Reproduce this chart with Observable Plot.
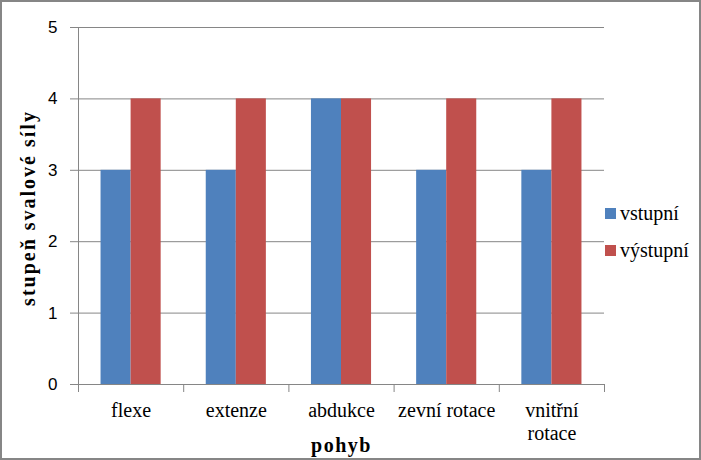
<!DOCTYPE html>
<html>
<head>
<meta charset="utf-8">
<script src="https://cdn.jsdelivr.net/npm/d3@7"></script>
<script src="https://cdn.jsdelivr.net/npm/@observablehq/plot@0.6"></script>
<style>
  body { margin: 0; background: #fff; }
  #wrap { position: relative; width: 701px; height: 460px; overflow: hidden; background: #fff; }
  #border { position: absolute; left: 0; top: 0; width: 701px; height: 460px; box-sizing: border-box; border: 2px solid #868686; pointer-events: none; }
  #legend { position: absolute; left: 0; top: 0; font-family: "Liberation Serif", "DejaVu Serif", "Noto Serif", "FreeSerif", "Nimbus Roman", "Nimbus Roman No9 L", "Tinos", "Times", serif; font-size: 20px; color: #000; }
  .lg-row { position: absolute; left: 605px; height: 20px; display: flex; align-items: center; white-space: nowrap; }
  .lg-sw { width: 11px; height: 11px; margin-right: 4px; }
  .lg-tx { line-height: 20px; }
  .ylab text { letter-spacing: 2px; }
  .xlab text { letter-spacing: 1.5px; }
</style>
</head>
<body>
<div id="wrap"><div id="legend"></div><div id="border"></div></div>
<script>
// ---- data ----
const categories = ["flexe", "extenze", "abdukce", "zevní rotace", "vnitřní rotace"];
const tickLabels = ["flexe", "extenze", "abdukce", "zevní rotace", "vnitřní\nrotace"];
const series = ["vstupní", "výstupní"];
const vstupni = [3, 3, 4, 3, 3];
const vystupni = [4, 4, 4, 4, 4];
const yTicks = [0, 1, 2, 3, 4, 5];
const xTitle = "pohyb";
const yTitle = "stupeň svalové síly";

// ---- styles ----
const serifFont = "'Liberation Serif', 'DejaVu Serif', 'Noto Serif', FreeSerif, 'Nimbus Roman', 'Nimbus Roman No9 L', Tinos, Times, serif";
const sansFont = "'Liberation Sans', Arial, sans-serif";
const colors = ["#4F81BD", "#C0504D"];
const axisGray = "#868686";
const groupInset = 0.2143;               // empty fraction of each category band on each side
const barFrac = (1 - 2 * groupInset) / 2; // width of one bar as fraction of band

const rows = categories.flatMap((c, i) => [
  {category: c, index: i, series: series[0], value: vstupni[i], slot: 0},
  {category: c, index: i, series: series[1], value: vystupni[i], slot: 1}
]);
const labelRows = categories.map((c, i) => ({index: i, label: tickLabels[i]}));

const plot = Plot.plot({
  width: 701,
  height: 460,
  marginLeft: 78,
  marginRight: 97,
  marginTop: 27,
  marginBottom: 76,
  style: {background: "transparent", color: "#000", overflow: "visible"},
  x: {type: "linear", domain: [0, categories.length], axis: null},
  y: {domain: [0, 5], axis: null},
  color: {domain: series, range: colors},
  marks: [
    Plot.gridY(yTicks, {stroke: axisGray, strokeOpacity: 1, strokeWidth: 1}),
    Plot.axisY(yTicks, {
      tickSize: 8, tickPadding: 13, stroke: axisGray, strokeOpacity: 1,
      fontFamily: sansFont, fontSize: 17, label: null,
      tickFormat: d => String(d)
    }),
    Plot.rect(rows, {
      x1: d => d.index + groupInset + d.slot * barFrac,
      x2: d => d.index + groupInset + (d.slot + 1) * barFrac,
      y1: 0,
      y2: "value",
      fill: "series"
    }),
    Plot.ruleX([0], {y1: 0, y2: 5, stroke: axisGray, strokeWidth: 1}),
    Plot.ruleY([0], {stroke: axisGray, strokeWidth: 1}),
    Plot.axisX(d3.range(categories.length + 1), {
      tickSize: 8, stroke: axisGray, strokeOpacity: 1, tickFormat: () => "", label: null
    }),
    Plot.text(labelRows, {
      x: d => d.index + 0.5, y: 0, text: "label",
      lineAnchor: "top", dy: 16, lineHeight: 1.15,
      fontFamily: serifFont, fontSize: 20, fill: "#000"
    }),
    Plot.text([xTitle], {
      frameAnchor: "bottom", dy: 61, lineAnchor: "middle", textAnchor: "middle",
      fontFamily: serifFont, fontSize: 20, fontWeight: "bold",
      fill: "#000", className: "xlab"
    }),
    Plot.text([yTitle], {
      frameAnchor: "left", dx: -50, dy: 2, rotate: -90, lineAnchor: "middle", textAnchor: "middle",
      fontFamily: serifFont, fontSize: 20, fontWeight: "bold",
      fill: "#000", className: "ylab"
    })
  ]
});

document.getElementById("wrap").insertBefore(plot, document.getElementById("legend"));

// legend built from the plot's color scale
const colorScale = plot.scale("color");
const legend = document.getElementById("legend");
series.forEach((s, i) => {
  const row = document.createElement("div");
  row.className = "lg-row";
  row.style.top = (203 + i * 37) + "px";
  const sw = document.createElement("div");
  sw.className = "lg-sw";
  sw.style.background = colorScale.apply(s);
  const tx = document.createElement("span");
  tx.className = "lg-tx";
  tx.textContent = s;
  row.appendChild(sw);
  row.appendChild(tx);
  legend.appendChild(row);
});
</script>
</body>
</html>
